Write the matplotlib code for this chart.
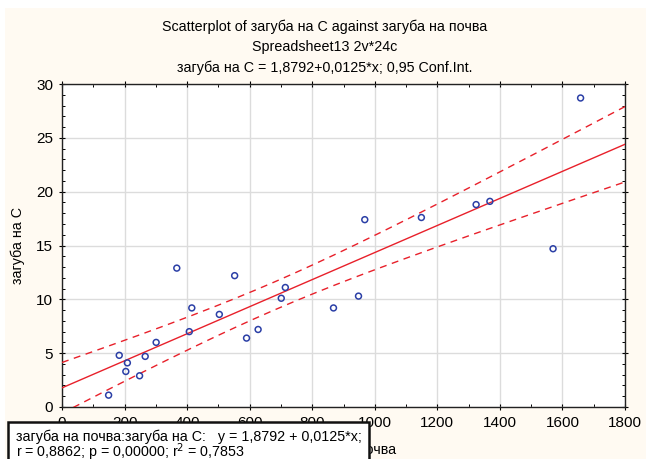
import matplotlib
matplotlib.use('Agg')
import matplotlib.pyplot as plt
from matplotlib.patches import Rectangle
from matplotlib.ticker import MultipleLocator
import numpy as np

plt.rcParams['font.family'] = ['Liberation Sans', 'DejaVu Sans']

# загуба на почва (x) и загуба на C (y), 24 случая
pochva = [149, 183, 209, 204, 248, 266, 301, 367, 407, 415, 503, 552,
          590, 627, 701, 714, 868, 948, 968, 1149, 1324, 1368, 1570, 1658]
zaguba_c = [1.1, 4.8, 4.1, 3.3, 2.9, 4.7, 6.0, 12.9, 7.0, 9.2, 8.6, 12.2,
            6.4, 7.2, 10.1, 11.1, 9.2, 10.3, 17.4, 17.6, 18.8, 19.1, 14.7, 28.7]

title_lines = ['Scatterplot of загуба на C against загуба на почва',
               'Spreadsheet13 2v*24c',
               'загуба на C = 1,8792+0,0125*x; 0,95 Conf.Int.']
stats_line1 = 'загуба на почва:загуба на C:   y = 1,8792 + 0,0125*x;'
stats_line2 = 'r = 0,8862; p = 0,00000; r$^2$ = 0,7853'

x = np.array(pochva, dtype=float)
y = np.array(zaguba_c, dtype=float)
n = len(x)
slope, intercept = np.polyfit(x, y, 1)
resid = y - (intercept + slope * x)
s = np.sqrt(np.sum(resid ** 2) / (n - 2))
sxx = np.sum((x - x.mean()) ** 2)
t_crit = 2.074  # t(0.975, 22)

xs = np.linspace(0, 1800, 200)
fit = intercept + slope * xs
half = t_crit * s * np.sqrt(1 / n + (xs - x.mean()) ** 2 / sxx)

W, H = 646, 459
fig = plt.figure(figsize=(W / 100, H / 100), dpi=100, facecolor='white')
fig.patches.append(Rectangle((5 / W, 0), 1, 1 - 8 / H, transform=fig.transFigure,
                             facecolor='#fffaf2', edgecolor='none', zorder=-10))

ax = fig.add_axes([62 / W, 1 - 407 / H, 563 / W, 323 / H])
ax.set_facecolor('white')

red = '#e8202a'
ax.plot(xs, fit, color=red, lw=1.0, zorder=3)
ax.plot(xs, fit + half, color=red, lw=1.0, ls=(0, (5, 4)), zorder=3)
ax.plot(xs, fit - half, color=red, lw=1.0, ls=(0, (5, 4)), zorder=3)
ax.scatter(x, y, s=18, facecolors='none', edgecolors='#2b3fa6', linewidths=1.1, zorder=4)

ax.set_xlim(0, 1800)
ax.set_ylim(0, 30)
ax.xaxis.set_major_locator(MultipleLocator(200))
ax.xaxis.set_minor_locator(MultipleLocator(100))
ax.yaxis.set_major_locator(MultipleLocator(5))
ax.yaxis.set_minor_locator(MultipleLocator(1))
ax.grid(True, which='major', color='#dcdcdc', lw=1.0, zorder=0)
ax.set_axisbelow(True)
ax.tick_params(which='major', direction='inout', length=5, width=0.8,
               top=True, right=True, labelsize=11, pad=4)
ax.tick_params(which='minor', direction='in', length=2.5, width=0.7,
               top=True, right=True)
for sp in ax.spines.values():
    sp.set_linewidth(1.0)
    sp.set_color('#222222')

ax.set_xlabel('загуба на почва', fontsize=10.3, labelpad=9)
ax.set_ylabel('загуба на C', fontsize=10.3, labelpad=8)

for i, line in enumerate(title_lines):
    fig.text(0.5 + 2 / W, 1 - (27 + 20.5 * i) / H, line, ha='center', va='center', fontsize=10.3)

# legend-like box in the lower left corner
fig.patches.append(Rectangle((8 / W, -0.05), 361 / W, 0.05 + 1 - 422 / H,
                             transform=fig.transFigure, facecolor='white',
                             edgecolor='#111111', lw=1.8, zorder=5))
fig.text(16 / W, 1 - 437 / H, stats_line1, ha='left', va='center', fontsize=10.3, zorder=6)
fig.text(16 / W, 1 - 452 / H, stats_line2, ha='left', va='center', fontsize=10.3, zorder=6)

fig.savefig('out.png', dpi=100, facecolor=fig.get_facecolor())
